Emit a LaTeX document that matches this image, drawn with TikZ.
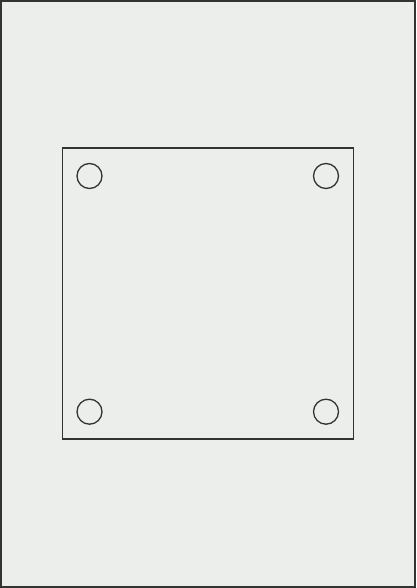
\documentclass[tikz,border=0pt]{standalone}
\definecolor{bg}{HTML}{ECEEEC}
\definecolor{ln}{HTML}{333333}
\tikzset{
  plate/.style={draw=ln, line width=1.3pt},
  hole/.style={draw=ln, line width=1.3pt, circle, minimum size=25pt, inner sep=0pt}
}
\begin{document}
\begin{tikzpicture}[x=1pt,y=-1pt]
\useasboundingbox (0,0) rectangle (416,588);
\fill[bg] (0,0) rectangle (416,588);
\draw[plate, line width=1.6pt] (0.8,0.8) rectangle (415.2,587.2);
\node[plate, rectangle, minimum width=291pt, minimum height=291pt, inner sep=0pt] (sq) at (208,293.5) {};
\node[hole] (h1) at (89.5,176) {};
\node[hole] (h2) at (326,176) {};
\node[hole] (h3) at (89.5,411.7) {};
\node[hole] (h4) at (326,411.7) {};
\end{tikzpicture}
\end{document}
